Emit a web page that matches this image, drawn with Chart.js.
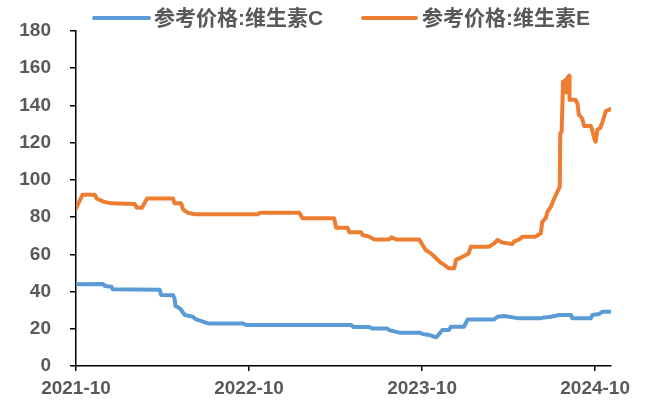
<!DOCTYPE html>
<html><head><meta charset="utf-8">
<script src="https://cdn.jsdelivr.net/npm/chart.js@4"></script>
<style>html,body{margin:0;padding:0;background:#fff}#wrap{width:650px;height:405px}</style>
</head><body><div id="wrap"><canvas id="c" width="650" height="405"></canvas></div>
<script>
const seriesNames = ['参考价格:维生素C', '参考价格:维生素E'];
const seriesColors = ['#5B9BD5', '#ED7D31'];

const vcDates = ['2021-10-01','2021-11-28','2021-12-01','2021-12-15','2021-12-18','2022-03-26','2022-03-29','2022-04-23','2022-04-26','2022-04-28','2022-05-07','2022-05-18','2022-06-04','2022-06-11','2022-06-25','2022-07-06','2022-09-18','2022-09-25','2023-05-04','2023-05-08','2023-06-11','2023-06-16','2023-07-19','2023-07-23','2023-08-14','2023-09-25','2023-10-02','2023-10-16','2023-10-31','2023-11-05','2023-11-13','2023-11-27','2023-12-01','2023-12-29','2024-01-06','2024-03-01','2024-03-08','2024-03-22','2024-04-23','2024-06-08','2024-06-15','2024-06-29','2024-07-17','2024-08-11','2024-08-14','2024-09-22','2024-09-25','2024-10-09','2024-10-17','2024-11-03'];
const vcValues = [43.9,44,43,42.6,41.2,41,38.2,38,36.3,32.2,31,27.4,26.5,25,23.8,22.9,22.9,22,22,21,21,20.2,20.2,19.3,17.9,17.9,17.2,16.7,15.4,16.7,19.3,19.3,21.1,21.1,25,25,26.5,26.9,25.6,25.6,26.1,26.5,27.4,27.4,25.6,25.6,27.4,27.9,29.2,29.2];

const veDates = ['2021-10-01','2021-10-15','2021-11-10','2021-11-14','2021-11-28','2021-12-15','2022-02-03','2022-02-07','2022-02-17','2022-02-27','2022-04-23','2022-04-26','2022-05-10','2022-05-14','2022-05-24','2022-06-08','2022-10-20','2022-10-24','2023-01-16','2023-01-23','2023-03-29','2023-04-02','2023-04-26','2023-04-30','2023-05-25','2023-05-28','2023-06-11','2023-06-22','2023-07-23','2023-07-28','2023-08-07','2023-09-25','2023-10-02','2023-10-09','2023-10-20','2023-10-31','2023-11-10','2023-11-17','2023-11-27','2023-12-08','2023-12-12','2023-12-26','2024-01-08','2024-01-13','2024-02-20','2024-03-01','2024-03-08','2024-03-19','2024-04-09','2024-04-12','2024-04-23','2024-04-30','2024-05-28','2024-06-08','2024-06-11','2024-06-18','2024-06-22','2024-06-29','2024-07-06','2024-07-13','2024-07-18','2024-07-19','2024-07-22','2024-07-25','2024-07-31','2024-08-01','2024-08-03','2024-08-07','2024-08-08','2024-08-21','2024-08-25','2024-08-28','2024-09-04','2024-09-08','2024-09-22','2024-09-25','2024-09-29','2024-10-02','2024-10-06','2024-10-12','2024-10-17','2024-10-24','2024-11-03'];
const veValues = [84.7,92,92,90,88.3,87.4,87,85,85,90,90,87.4,87.4,84.2,82.4,81.5,81.5,82.4,82.4,79.4,79.4,74.3,74.3,71.8,71.8,70.4,69.5,68,68,69.1,68,68,65,62.3,60.5,57.9,55.5,54.3,52.5,52.5,57,58.7,60.5,64.1,64.1,65.9,67.7,66.3,65.6,66.8,68,69.5,69.5,71.3,77.5,79.3,82.9,85.6,90,93.7,96.3,125,125.9,152.8,153.7,147,154.6,156,143,143,141,135,133,129,129,126.8,122.3,120.5,127,128,131.3,137,138];

const xTickMonths = [0, 12, 24, 36];
const xTickLabels = ['2021-10', '2022-10', '2023-10', '2024-10'];
const yMin = 0, yMax = 180, yStep = 20;

function monthIndex(s) {
  const [y, m, d] = s.split('-').map(Number);
  const dim = new Date(y, m, 0).getDate();
  return (y - 2021) * 12 + (m - 10) + (d - 1) / dim;
}
function toPoints(dates, vals) { return dates.map((d, i) => ({ x: monthIndex(d), y: vals[i] })); }

const TXT = '#595959';
const FONT_FAMILY = '"Liberation Sans", Arial, "Noto Sans CJK SC", sans-serif';

const legendPlugin = {
  id: 'customLegend',
  afterDraw(chart) {
    const ctx = chart.ctx;
    const items = [
      { x0: 94, x1: 149, tx: 154 },
      { x0: 363, x1: 416, tx: 422 }
    ];
    ctx.save();
    items.forEach((it, i) => {
      ctx.strokeStyle = seriesColors[i];
      ctx.lineWidth = 4;
      ctx.lineCap = 'round';
      ctx.beginPath(); ctx.moveTo(it.x0, 18); ctx.lineTo(it.x1, 18); ctx.stroke();
      ctx.fillStyle = TXT;
      ctx.font = 'bold 21px ' + FONT_FAMILY;
      ctx.textBaseline = 'middle';
      ctx.textAlign = 'left';
      ctx.fillText(seriesNames[i], it.tx, 19);
    });
    ctx.restore();
  }
};

new Chart(document.getElementById('c'), {
  type: 'line',
  data: {
    datasets: [
      { label: seriesNames[0], data: toPoints(vcDates, vcValues), borderColor: seriesColors[0], borderWidth: 4, pointRadius: 0, tension: 0, fill: false, borderJoinStyle: 'round', borderCapStyle: 'round' },
      { label: seriesNames[1], data: toPoints(veDates, veValues), borderColor: seriesColors[1], borderWidth: 4, pointRadius: 0, tension: 0, fill: false, borderJoinStyle: 'round', borderCapStyle: 'round' }
    ]
  },
  options: {
    responsive: false,
    devicePixelRatio: 1,
    animation: false,
    layout: { padding: { top: 31, right: 39, left: 0, bottom: 0 } },
    plugins: { legend: { display: false }, tooltip: { enabled: false } },
    scales: {
      x: {
        type: 'linear', min: 0, max: 37.1,
        afterBuildTicks(scale) { scale.ticks = xTickMonths.map(v => ({ value: v })); },
        afterFit(scale) { scale.height = 39; },
        ticks: {
          autoSkip: false, maxRotation: 0, padding: 6, color: TXT,
          font: { family: FONT_FAMILY, size: 19, weight: 'bold' },
          callback(v) { const i = xTickMonths.indexOf(v); return i >= 0 ? xTickLabels[i] : ''; }
        },
        grid: { drawOnChartArea: false, drawTicks: true, tickLength: 5, color: '#000', lineWidth: 1.5 },
        border: { color: '#000', width: 1.5 }
      },
      y: {
        min: yMin, max: yMax,
        afterFit(scale) { scale.width = 76; },
        ticks: { stepSize: yStep, padding: 19, color: TXT, font: { family: FONT_FAMILY, size: 19, weight: 'bold' } },
        grid: { drawOnChartArea: false, drawTicks: true, tickLength: 6, color: '#000', lineWidth: 1.5 },
        border: { color: '#000', width: 1.5 }
      }
    }
  },
  plugins: [legendPlugin]
});
</script></body></html>
